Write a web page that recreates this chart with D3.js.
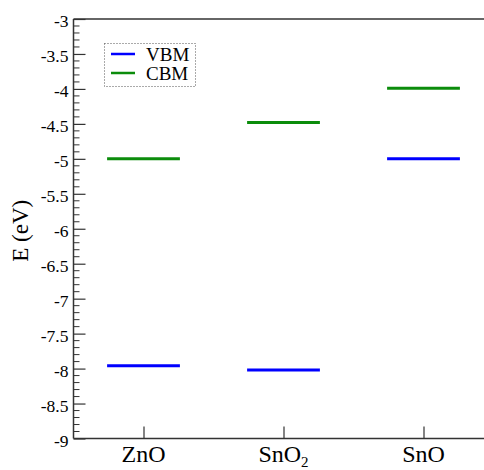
<!DOCTYPE html>
<html><head><meta charset="utf-8">
<script src="https://cdn.jsdelivr.net/npm/d3@7"></script>
<style>body{margin:0;background:#fff}svg{display:block}svg text{font-family:"Liberation Serif","Times New Roman","DejaVu Serif",serif}</style>
</head><body>
<script>
const categories = ["ZnO", "SnO2", "SnO"];
const vbm = [-7.96, -8.02, -5.0];
const cbm = [-5.0, -4.48, -3.99];
const yTicks = [-9, -8.5, -8, -7.5, -7, -6.5, -6, -5.5, -5, -4.5, -4, -3.5, -3];
const seriesNames = ["VBM", "CBM"];
const colors = ["#0000ff", "#0b8c0b"];

const W = 484, H = 470;
const svg = d3.select("body").append("svg").attr("width", W).attr("height", H);
const mLeft = 73.5, mTop = 19, mBottom = 438.5;
const x = d3.scaleLinear().domain([0.5, 3.5]).range([mLeft, mLeft + 420]);
const y = d3.scaleLinear().domain([-9, -3]).range([mBottom, mTop]);
const axisColor = "#333";

// frame: left, top, bottom
svg.append("line").attr("x1", mLeft).attr("x2", mLeft).attr("y1", mTop).attr("y2", mBottom).attr("stroke", axisColor).attr("stroke-width", 1.5);
svg.append("line").attr("x1", mLeft).attr("x2", W + 10).attr("y1", mTop).attr("y2", mTop).attr("stroke", axisColor).attr("stroke-width", 1.5);
svg.append("line").attr("x1", mLeft).attr("x2", W + 10).attr("y1", mBottom).attr("y2", mBottom).attr("stroke", axisColor).attr("stroke-width", 1.5);

// y major ticks (inward) + labels
const yAxis = d3.axisLeft(y).tickValues(yTicks).tickSize(-12).tickFormat(d => String(d));
const gy = svg.append("g").attr("transform", `translate(${mLeft},0)`).call(yAxis);
gy.attr("font-family", null);
gy.select(".domain").remove();
gy.selectAll(".tick line").attr("stroke", axisColor).attr("stroke-width", 1.2);
gy.selectAll(".tick text").attr("font-size", 17.5).attr("fill", "#000").attr("x", -5).attr("dy", "0.45em");

// minor ticks
const minor = d3.range(-9, -3.0001, 0.1).filter(v => Math.abs(v * 2 - Math.round(v * 2)) > 0.01);
svg.append("g").selectAll("line").data(minor).join("line")
  .attr("x1", mLeft).attr("x2", mLeft + 6).attr("y1", d => y(d)).attr("y2", d => y(d))
  .attr("stroke", axisColor).attr("stroke-width", 1);

// x ticks (inward, up)
const xAxis = d3.axisBottom(x).tickValues([1, 2, 3]).tickSize(-12).tickFormat(() => "");
const gx = svg.append("g").attr("transform", `translate(0,${mBottom})`).call(xAxis);
gx.select(".domain").remove();
gx.selectAll(".tick line").attr("stroke", axisColor).attr("stroke-width", 1.2);
gx.selectAll(".tick text").remove();
categories.forEach((c, i) => {
  const t = svg.append("text").attr("x", x(i + 1)).attr("y", 462).attr("text-anchor", "middle")
    .attr("font-size", 24).attr("fill", "#000");
  if (c === "SnO2") {
    t.append("tspan").text("SnO");
    t.append("tspan").attr("font-size", 15).attr("dy", 5).text("2");
  } else t.text(c);
});

// y label
svg.append("text").attr("transform", `translate(28,${(mTop + mBottom) / 2 + 2}) rotate(-90)`)
  .attr("text-anchor", "middle").attr("font-size", 23).text("E (eV)");

// level lines
const hw = 0.26;
[vbm, cbm].forEach((vals, s) => {
  svg.append("g").selectAll("line").data(vals).join("line")
    .attr("x1", (d, i) => x(i + 1 - hw)).attr("x2", (d, i) => x(i + 1 + hw))
    .attr("y1", d => y(d)).attr("y2", d => y(d))
    .attr("stroke", colors[s]).attr("stroke-width", 3);
});

// legend
const lg = svg.append("g");
lg.append("rect").attr("x", 104.5).attr("y", 43.5).attr("width", 91).attr("height", 43)
  .attr("fill", "none").attr("stroke", "#555").attr("stroke-width", 1).attr("stroke-dasharray", "1,2");
seriesNames.forEach((n, i) => {
  const yy = 54 + i * 19;
  lg.append("line").attr("x1", 111).attr("x2", 135).attr("y1", yy).attr("y2", yy).attr("stroke", colors[i]).attr("stroke-width", 2.5);
  lg.append("text").attr("x", 146).attr("y", yy + 6.5).attr("font-size", 19).text(n);
});
</script>
</body></html>
